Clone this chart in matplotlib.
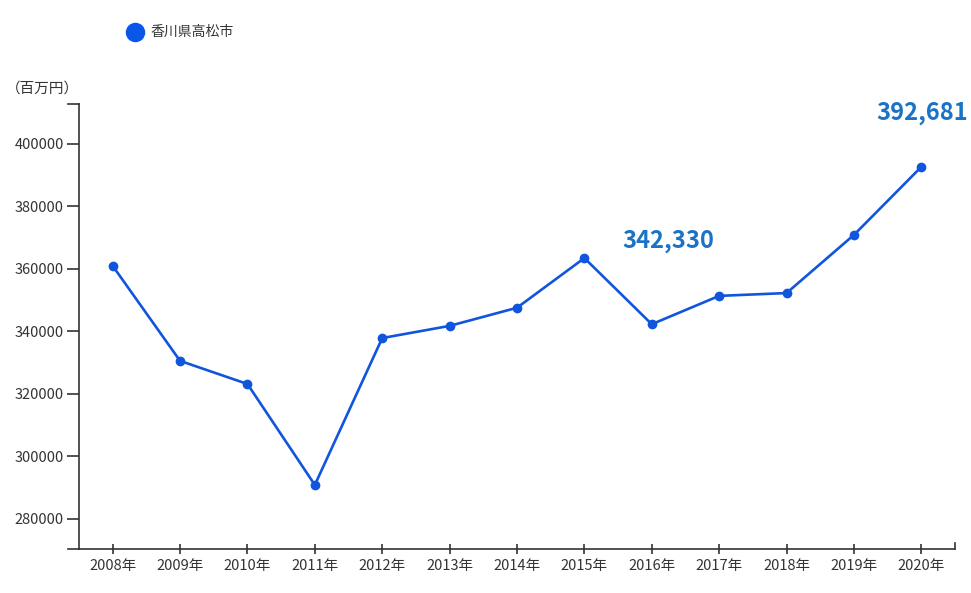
import matplotlib.pyplot as plt
import numpy as np

plt.rcParams['font.family'] = ['Noto Sans CJK JP', 'DejaVu Sans']

# 香川県高松市 (百万円)
years = ['2008年', '2009年', '2010年', '2011年', '2012年', '2013年', '2014年',
         '2015年', '2016年', '2017年', '2018年', '2019年', '2020年']
values = [361000, 330600, 323200, 290900, 337900, 341800, 347600,
          363500, 342330, 351400, 352300, 370900, 392681]
yticks = [280000, 300000, 320000, 340000, 360000, 380000, 400000]

line_color = '#1155dd'
label_color = '#1a73c6'

fig = plt.figure(figsize=(9.71, 5.93), dpi=100)
ax = fig.add_axes([79 / 971, 1 - 549 / 593, 876 / 971, 445 / 593])

x = np.arange(len(years))
ax.plot(x, values, color=line_color, lw=1.9, marker='o', ms=6, zorder=3)

ax.set_xlim(-0.5, len(years) - 0.5)
ax.set_ylim(270400, 412800)
ax.set_xticks(x)
ax.set_xticklabels(years)
ax.set_yticks(yticks)
ax.set_yticklabels([str(v) for v in yticks])

for s in ['top', 'right']:
    ax.spines[s].set_visible(False)
for s in ['left', 'bottom']:
    ax.spines[s].set_color('#333333')
    ax.spines[s].set_linewidth(1.2)
ax.tick_params(axis='y', length=9, width=1.2, color='#333333', labelsize=10.5,
               labelcolor='#333333', pad=2)
ax.tick_params(axis='x', direction='inout', length=7, width=1.2, color='#333333',
               labelsize=10.5, labelcolor='#333333', pad=4)

# end ticks on the axes
ax.plot([-0.5 - 11 / 67.4, -0.5], [270400, 270400], color='#333333', lw=1.2, clip_on=False)
ax.plot([-0.5 - 11 / 67.4, -0.5], [412800, 412800], color='#333333', lw=1.2, clip_on=False)
ax.plot([len(years) - 0.5] * 2, [270400, 270400 + 6 / 3.125 * 1000], color='#333333', lw=1.2,
        clip_on=False)

# value labels
ax.text(8 + 0.25, 369000, f'{values[8]:,}', color=label_color, fontsize=17, fontweight='bold',
        ha='center', va='center')
fig.text(968 / 971, 1 - 113 / 593, f'{values[12]:,}', color=label_color, fontsize=17,
         fontweight='bold', ha='right', va='center')

# unit and legend
fig.text(42 / 971, 1 - 89 / 593, '（百万円）', fontsize=10.5, color='#333333', ha='center', va='center')
fig.lines.append(plt.Line2D([135 / 971], [1 - 32 / 593], marker='o', ms=13, color='#0a56e8',
                            transform=fig.transFigure))
fig.text(150 / 971, 1 - 32 / 593, '香川県高松市', fontsize=10, color='#333333', va='center')

fig.savefig('out.png', dpi=100)
